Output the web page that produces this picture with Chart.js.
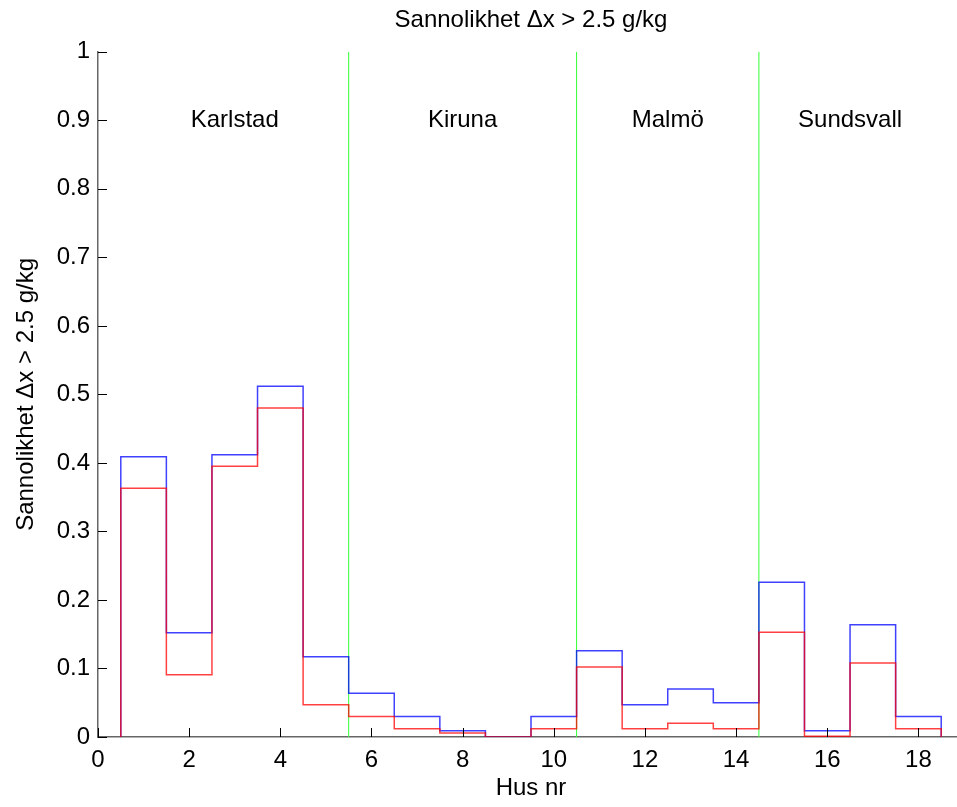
<!DOCTYPE html>
<html>
<head>
<meta charset="utf-8">
<script src="https://cdn.jsdelivr.net/npm/chart.js@4"></script>
<style>
  html, body { margin: 0; padding: 0; background: #fff; overflow: hidden; }
  #wrap { width: 964px; height: 807px; }
</style>
</head>
<body>
<div id="wrap"><canvas id="probChart"></canvas></div>
<script>
// house numbers 1..18 (each step is one house wide)
const houses = [1, 2, 3, 4, 5, 6, 7, 8, 9, 10, 11, 12, 13, 14, 15, 16, 17, 18];
const blueValues = [0.409, 0.152, 0.412, 0.512, 0.117, 0.064, 0.030, 0.009, 0, 0.030,
                    0.126, 0.047, 0.070, 0.050, 0.226, 0.009, 0.164, 0.030];
const redValues  = [0.363, 0.091, 0.395, 0.480, 0.047, 0.030, 0.012, 0.006, 0, 0.012,
                    0.102, 0.012, 0.020, 0.012, 0.153, 0.001, 0.108, 0.012];

const dividers = [5.5, 10.5, 14.5];
const cityNames = ["Karlstad", "Kiruna", "Malmö", "Sundsvall"];
const cityCenters = [3, 8, 12.5, 16.5];
const xTickValues = [0, 2, 4, 6, 8, 10, 12, 14, 16, 18];

const FONT = '"Liberation Sans", Arial, sans-serif';
const FS = 24;

// stairs: start at 0 on the left edge, drop back to 0 at the right edge
function stairs(values) {
  const pts = [{ x: houses[0] - 0.5, y: 0 }];
  houses.forEach((h, i) => pts.push({ x: h - 0.5, y: values[i] }));
  const last = houses[houses.length - 1] + 0.5;
  pts.push({ x: last, y: values[values.length - 1] });
  pts.push({ x: last, y: 0 });
  return pts;
}

const dividerSets = dividers.map(d => ({
  data: [{ x: d, y: 0 }, { x: d, y: 1 }],
  borderColor: "#33ff33",
  borderWidth: 1,
  pointRadius: 0
}));

// inward tick marks + city names
const decorPlugin = {
  id: "decor",
  afterDraw(chart) {
    const { ctx, chartArea, scales } = chart;
    ctx.save();
    ctx.strokeStyle = "#000";
    ctx.lineWidth = 1;
    ctx.beginPath();
    xTickValues.forEach(v => {
      const px = Math.round(scales.x.getPixelForValue(v)) + 0.5;
      ctx.moveTo(px, chartArea.bottom);
      ctx.lineTo(px, chartArea.bottom - 9);
    });
    for (let i = 0; i <= 10; i++) {
      const py = Math.round(scales.y.getPixelForValue(i / 10)) + 0.5;
      ctx.moveTo(chartArea.left, py);
      ctx.lineTo(chartArea.left + 9, py);
    }
    ctx.stroke();

    ctx.fillStyle = "#000";
    ctx.font = FS + "px " + FONT;
    ctx.textAlign = "center";
    ctx.textBaseline = "middle";
    cityNames.forEach((name, i) => {
      ctx.fillText(name, scales.x.getPixelForValue(cityCenters[i]), scales.y.getPixelForValue(0.9));
    });
    ctx.restore();
  }
};

new Chart(document.getElementById("probChart"), {
  type: "line",
  data: {
    datasets: [
      {
        data: stairs(redValues),
        borderColor: "rgba(255,0,0,0.75)",
        borderWidth: 1.5,
        stepped: "before",
        pointRadius: 0
      },
      {
        data: stairs(blueValues),
        borderColor: "rgba(0,0,255,0.75)",
        borderWidth: 1.5,
        stepped: "before",
        pointRadius: 0
      },
      ...dividerSets
    ]
  },
  options: {
    responsive: true,
    maintainAspectRatio: false,
    animation: false,
    layout: { padding: 0 },
    plugins: {
      legend: { display: false },
      tooltip: { enabled: false },
      title: {
        display: true,
        fullSize: false,
        text: "Sannolikhet \u0394x > 2.5 g/kg",
        color: "#000",
        font: { family: FONT, size: FS, weight: "normal" },
        padding: { top: 6, bottom: 17 }
      }
    },
    scales: {
      x: {
        type: "linear",
        min: 0,
        max: 19,
        afterBuildTicks: s => { s.ticks = xTickValues.map(v => ({ value: v })); },
        afterFit: s => { s.height = 70; },
        border: { color: "#666", width: 1.5 },
        grid: { display: false },
        ticks: { color: "#000", font: { family: FONT, size: FS }, padding: 1 },
        title: {
          display: true,
          text: "Hus nr",
          color: "#000",
          font: { family: FONT, size: FS },
          padding: { top: 0 }
        }
      },
      y: {
        min: 0,
        max: 1,
        afterFit: s => { s.width = 98; },
        border: { color: "#666", width: 1.5 },
        grid: { display: false },
        ticks: {
          stepSize: 0.1,
          color: "#000",
          font: { family: FONT, size: FS },
          padding: 0,
          callback: v => String(Number(v.toFixed(1)))
        },
        title: {
          display: true,
          text: "Sannolikhet \u0394x > 2.5 g/kg",
          color: "#000",
          font: { family: FONT, size: FS },
          padding: { top: 12, bottom: 0 }
        }
      }
    }
  },
  plugins: [decorPlugin]
});
</script>
</body>
</html>
